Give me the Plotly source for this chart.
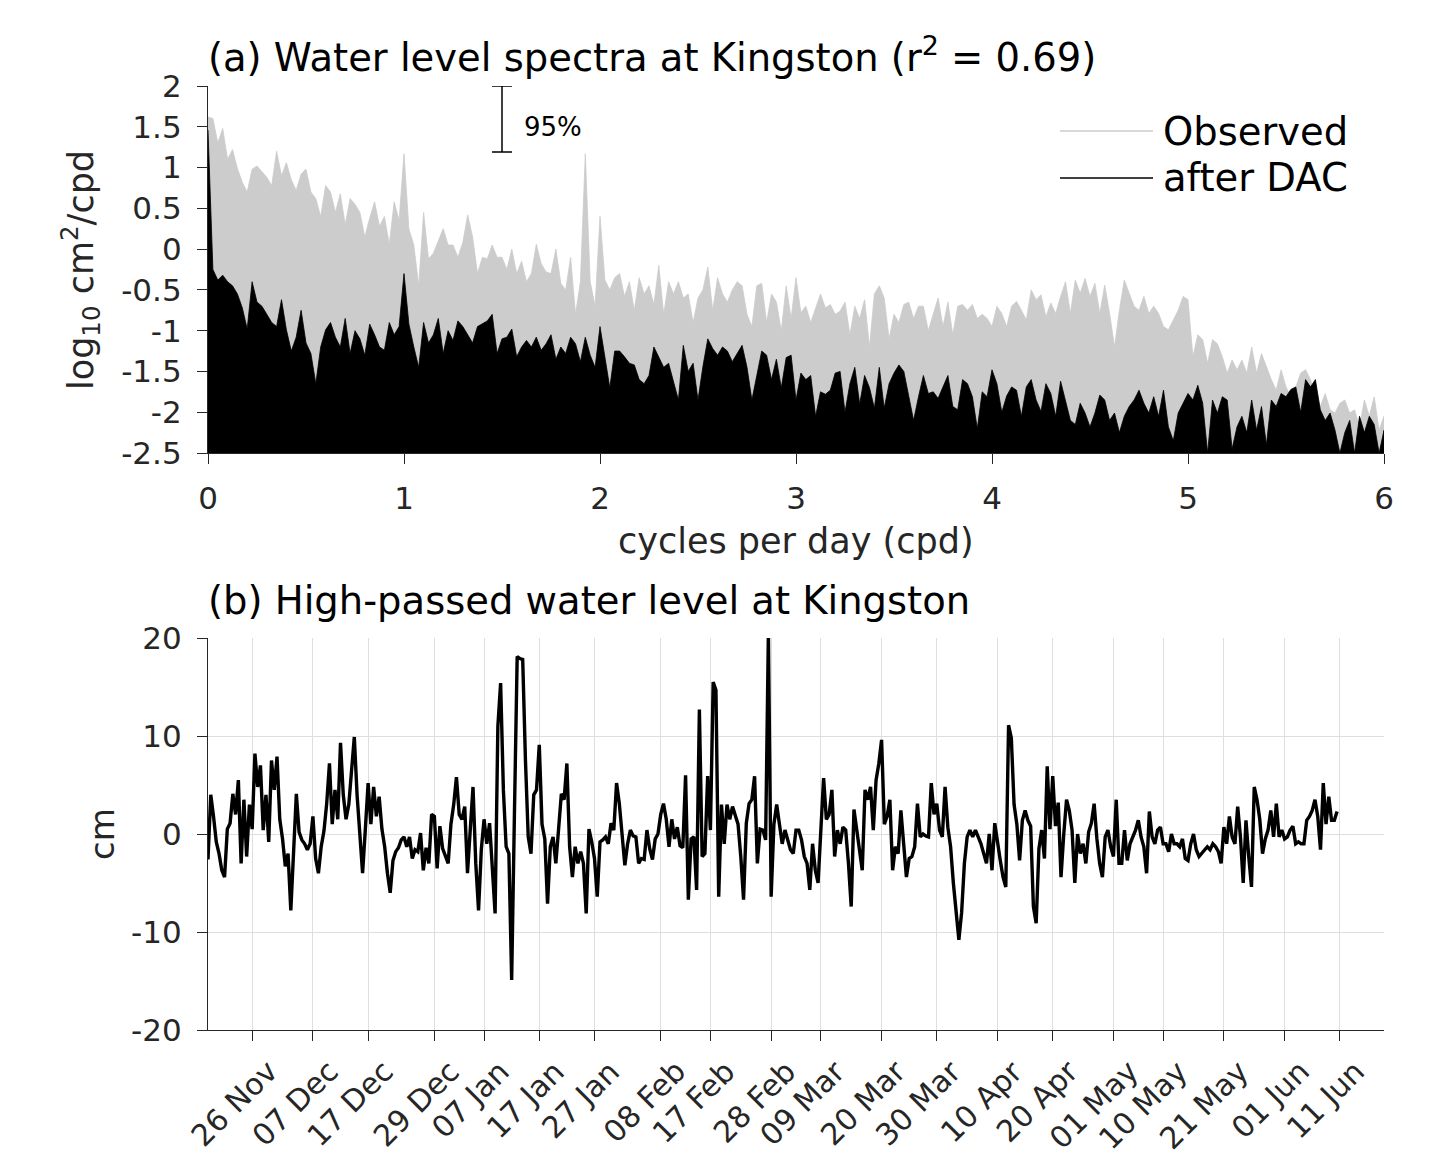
import numpy as np
import pandas as pd
import plotly.graph_objects as go

# ---------------- data: panel (a) spectra (log10 cm^2/cpd) ----------------
FREQ_STEP = 0.025  # cpd, spectral bin spacing used for the readout
obs_log10 = [
    1.62, 1.60, 1.30, 1.48, 1.10, 1.22, 0.99, 0.82, 0.70, 0.98,
    1.02, 0.95, 0.88, 0.78, 1.20, 0.90, 1.06, 0.85, 0.72, 0.92,
    0.98, 0.70, 0.62, 0.40, 0.78, 0.70, 0.45, 0.68, 0.30, 0.62,
    0.55, 0.45, 0.15, 0.38, 0.58, 0.28, 0.40, 0.06, 0.58, 0.35,
    1.17, 0.25, 0.05, -0.45, 0.45, -0.12, -0.05, 0.10, 0.25, 0.05,
    0.05, -0.10, 0.08, 0.42, 0.15, -0.30, -0.10, -0.12, 0.05, -0.10,
    -0.10, -0.25, 0.00, -0.30, -0.15, -0.40, -0.30, 0.06, -0.18, -0.28,
    -0.30, 0.00, -0.42, -0.50, -0.10, -0.80, -0.40, 1.17, -0.40, -0.70,
    0.40, -0.38, -0.50, -0.35, -0.30, -0.58, -0.40, -0.75, -0.35, -0.55,
    -0.45, -0.68, -0.20, -0.80, -0.40, -0.55, -0.40, -0.60, -0.55, -0.90,
    -0.60, -0.50, -0.22, -0.75, -0.35, -0.55, -0.65, -0.50, -0.40, -0.45,
    -0.80, -0.95, -0.45, -0.42, -0.90, -0.55, -0.65, -1.00, -0.45, -0.85,
    -0.35, -0.78, -0.70, -0.90, -0.72, -0.55, -0.72, -0.68, -0.80, -0.76,
    -0.65, -1.05, -0.70, -0.85, -0.62, -1.20, -0.55, -0.45, -0.60, -1.10,
    -0.80, -0.90, -0.68, -0.65, -0.85, -0.70, -0.70, -1.00, -0.80, -0.60,
    -0.95, -0.65, -1.05, -0.70, -0.68, -0.75, -0.68, -0.85, -0.80, -0.85,
    -0.95, -0.70, -0.79, -0.95, -0.70, -0.64, -0.75, -0.87, -0.50, -0.62,
    -0.56, -0.83, -0.66, -0.79, -0.58, -0.40, -0.79, -0.38, -0.54, -0.36,
    -0.58, -0.42, -0.79, -0.44, -0.79, -1.20, -0.75, -0.38, -0.54, -0.70,
    -0.75, -0.58, -0.79, -0.70, -0.79, -0.95, -0.99, -0.87, -0.75, -0.58,
    -0.62, -1.32, -1.05, -1.11, -1.40, -1.11, -1.16, -1.32, -1.52, -1.36,
    -1.48, -1.36, -1.52, -1.20, -1.52, -1.28, -1.44, -1.60, -1.73, -1.48,
    -1.69, -1.81, -1.69, -1.52, -1.48, -1.60, -1.81, -1.93, -1.77, -1.97,
    -2.01, -1.89, -1.85, -2.01, -1.97, -2.18, -1.85, -2.05, -1.81, -2.22,
    -2.05,
]
dac_log10 = [
    1.46, -0.25, -0.38, -0.32, -0.40, -0.45, -0.55, -0.72, -0.98, -0.40,
    -0.65, -0.70, -0.80, -0.90, -0.95, -0.62, -0.99, -1.25, -1.08, -0.75,
    -1.15, -1.28, -1.65, -1.20, -0.99, -0.90, -1.08, -1.20, -0.85, -1.28,
    -1.00, -1.10, -1.30, -0.92, -1.05, -1.20, -1.24, -0.90, -1.05, -0.95,
    -0.30, -0.92, -1.20, -1.45, -0.90, -1.15, -1.05, -0.85, -1.28, -1.00,
    -1.12, -0.88, -0.95, -1.05, -1.15, -0.95, -0.92, -0.88, -0.80, -1.28,
    -1.10, -1.08, -0.98, -1.32, -1.20, -1.12, -1.20, -1.08, -1.24, -1.16,
    -1.05, -1.35, -1.20, -1.28, -1.08, -1.16, -1.38, -1.08, -1.30, -1.45,
    -0.95, -1.32, -1.70, -1.25, -1.25, -1.32, -1.40, -1.42, -1.60, -1.65,
    -1.55, -1.20, -1.32, -1.45, -1.40, -1.62, -1.85, -1.18, -1.50, -1.40,
    -1.85, -1.44, -1.10, -1.22, -1.30, -1.20, -1.25, -1.38, -1.28, -1.18,
    -1.45, -1.85, -1.55, -1.25, -1.30, -1.60, -1.35, -1.70, -1.33, -1.30,
    -1.85, -1.52, -1.60, -1.55, -2.05, -1.75, -1.78, -1.73, -1.52, -1.50,
    -2.00, -1.65, -1.45, -1.90, -1.55, -1.70, -1.95, -1.45, -1.95, -1.65,
    -1.52, -1.42, -1.50, -1.78, -2.10, -1.81, -1.55, -1.77, -1.75, -1.83,
    -1.70, -1.55, -1.93, -1.97, -1.60, -1.65, -1.81, -2.20, -1.75, -1.81,
    -1.48, -1.65, -2.00, -1.80, -1.69, -1.73, -2.05, -1.69, -1.60, -1.85,
    -1.99, -1.65, -1.77, -2.05, -1.62, -1.85, -2.10, -2.15, -1.89, -2.01,
    -2.18, -2.01, -1.79, -1.85, -2.10, -2.01, -2.25, -2.05, -1.93, -1.85,
    -1.73, -1.89, -2.01, -1.81, -2.05, -1.73, -2.18, -2.35, -2.01, -1.89,
    -1.77, -1.85, -1.67, -1.89, -2.50, -1.85, -2.01, -1.81, -1.85, -2.45,
    -2.18, -2.05, -2.25, -1.85, -2.22, -1.93, -2.40, -1.85, -1.93, -1.77,
    -1.81, -1.72, -1.69, -2.00, -1.60, -1.69, -1.60, -1.97, -2.10, -2.01,
    -2.22, -2.50, -2.25, -2.10, -2.50, -2.05, -2.25, -2.05, -2.15, -2.50,
    -2.22,
]
freq = np.round(np.arange(len(obs_log10)) * FREQ_STEP, 4)

# 95% confidence bar
ci_freq = 1.5
ci_top = 2.0
ci_bottom = 1.19

# ---------------- data: panel (b) high-passed water level (cm) ----------------
hp_start = "2014-11-18 00:00"
hp_step = "12h"
hp_cm = [
    -2.6, 4.0, 1.8, -0.8, -2.0, -3.7, -4.4, 0.5, 1.1, 4.1,
    2.0, 5.5, -3.0, 3.5, -2.3, 3.0, 0.5, 8.2, 4.8, 7.0,
    0.4, 4.0, -0.8, 7.5, 4.5, 7.9, 1.5, -0.5, -3.3, -2.0,
    -7.8, -1.0, 4.1, 0.2, -0.6, -1.0, -1.6, -1.0, 1.8, -2.5,
    -4.0, -1.3, 0.3, 3.1, 7.2, 1.0, 4.5, 1.5, 9.3, 4.0,
    1.5, 3.0, 6.2, 9.9, 4.0, -0.3, -4.0, 0.5, 5.2, 1.0,
    4.8, 1.8, 3.8, 0.5, -1.3, -4.0, -6.0, -2.7, -1.8, -1.4,
    -0.6, -0.3, -1.3, -0.3, -2.5, -1.6, -1.8, 0.1, -3.7, -1.4,
    -3.0, 2.0, 1.8, -3.5, 0.8, -1.5, -2.2, -3.0, 1.0, 3.0,
    5.8, 2.0, 1.5, 2.8, -4.0, 0.3, 4.8, -3.0, -7.8, -1.6,
    1.5, -1.0, 1.1, -3.5, -8.1, 11.0, 15.4, 4.5, -1.3, -2.0,
    -14.9, 2.0, 18.1, 17.9, 17.8, 7.5, -0.3, -2.0, 4.0, 4.5,
    9.1, 1.0, -0.5, -7.1, -1.3, -0.3, -3.0, 0.5, 4.1, 3.5,
    7.2, -1.3, -4.4, -1.3, -3.0, -1.8, -3.0, -8.1, 0.5, -0.8,
    -2.5, -6.4,
    -0.8, -0.6, -0.3, -1.0, 1.1, 0.4, 5.2, 3.1,
    0.1, -3.2, -1.0, 0.4, -0.2, -0.3, -3.0, -2.5, -2.6, 0.4,
    -1.5, -2.6, -0.5, 0.0, 2.0, 3.1, 1.5, -1.3, 1.5, -0.5,
    0.7, -1.2, -1.4, 6.0, -6.7, -0.5, -0.3, -5.7, 12.7, -2.3,
    -2.0, 5.9, 0.4, 15.5, 14.7, -6.4, 3.0, -1.0, 3.0, 1.5,
    2.8, 1.8, 1.0, -2.3, -6.7, 1.1, 3.1, 3.5, 5.9, -3.0,
    0.5, 0.4, -0.6, 20.5, -6.4, 1.0, 3.0, 1.0, -1.0, 0.4,
    -0.6, -1.6, -2.0, 0.4, 0.4, -0.6, -2.3, -3.0, -5.7, -1.0,
    -3.7, -5.0, 0.4, 5.7, 1.5, 2.0, 4.5, -2.3, 0.4, -1.0,
    0.7, 0.4, -3.0, -7.4, 2.5, 0.4, -1.6, -3.7, 4.5, 3.5,
    4.8, 0.4, 5.5, 7.2, 9.6, 1.0, 1.8, 3.5, -3.7, -1.3,
    -2.0, 2.4, -1.0, -4.4, -2.5, -2.3, -1.3, 3.1, -0.3, 0.0,
    -0.2, -0.3, 5.2, 2.0, 3.1, 0.4, -0.3, 4.8, 0.7, -1.3,
    -5.0, -8.1, -10.8, -8.0, -3.0, -0.3, 0.4, -0.3, 0.4, -0.3,
    -1.0, -2.0, -3.0,
    0.0, -3.7, 1.1, -1.0, -2.7, -4.4, -5.4,
    11.1, 9.8, 3.0, 1.0, -2.7, 1.4, 2.4, 1.4, 0.8, -7.4,
    -9.1, -1.5, 0.4, -2.5, 6.9, 0.5, 5.9, 0.8, 3.2, -4.4,
    0.0, 3.5, 2.4, 0.4, -5.0, 0.0, -2.0, -1.0, -3.0, 0.2,
    1.1, 3.1, -0.5, -3.0, -4.4, -0.3, 0.4, -1.3, -2.3, 3.5,
    -3.0, -3.0, 0.4, -2.7, -1.0, -0.3, 0.4, 1.4, -0.3, -1.3,
    -4.0, 2.3, -0.3, -1.0, 0.4, 0.7, -1.0, -1.0, -1.8, 0.0,
    -1.0, -1.0, -1.3, -0.5, -2.5, -2.7, -1.0, 0.0, -1.6, -2.3,
    -2.0, -1.6, -1.3, -1.6, -1.0, -1.3, -1.8, -3.0, 0.7, -1.0,
    1.8, -0.3, -1.0, 2.8, -0.3, -5.0, 1.4, -2.3, -5.4, 4.8,
    3.5, 1.5, -2.0, -0.5, 0.4, 2.4, -0.3, 3.1, -0.3, 0.4,
    -0.5, -0.3, 0.4, 0.8, -1.0, -0.8, -1.0, -1.0, 1.4, 1.8,
    2.4, 3.5, 1.8, -1.6, 5.2, 1.0, 3.8, 1.4, 1.4, 2.3,
]
hp_time = pd.date_range(hp_start, periods=len(hp_cm), freq=hp_step)

date_ticks = ["2014-11-26", "2014-12-07", "2014-12-17", "2014-12-29", "2015-01-07",
              "2015-01-17", "2015-01-27", "2015-02-08", "2015-02-17", "2015-02-28",
              "2015-03-09", "2015-03-20", "2015-03-30", "2015-04-10", "2015-04-20",
              "2015-05-01", "2015-05-10", "2015-05-21", "2015-06-01", "2015-06-11"]
date_labels = ["26 Nov", "07 Dec", "17 Dec", "29 Dec", "07 Jan", "17 Jan", "27 Jan",
               "08 Feb", "17 Feb", "28 Feb", "09 Mar", "20 Mar", "30 Mar", "10 Apr",
               "20 Apr", "01 May", "10 May", "21 May", "01 Jun", "11 Jun"]
date_range = ["2014-11-18", "2015-06-19"]

spec_ticks = [-2.5, -2, -1.5, -1, -0.5, 0, 0.5, 1, 1.5, 2]
spec_ticktext = ["-2.5", "-2", "-1.5", "-1", "-0.5", "0", "0.5", "1", "1.5", "2"]
hp_ticks = [-20, -10, 0, 10, 20]
hp_ticktext = ["-20", "-10", "0", "10", "20"]
Y_MIN = -2.5

# ---------------- figure geometry (screen px, page has 8px body margin) ----------------
OFF = 8
W, H = 1440 - 2 * OFF, 1167 - 2 * OFF
X0, X1 = 208, 1384          # plot area left/right on screen
FONT = "DejaVu Sans"
AX = "#262626"
GRAY = "#cccccc"


def px(xs):
    return (xs - X0) / (X1 - X0)


def py(ys):
    return 1 - (ys - OFF) / H


fig = go.Figure()

fig.add_trace(go.Scatter(
    x=list(freq) + [freq[-1], freq[0]], y=list(obs_log10) + [Y_MIN, Y_MIN],
    fill="toself", fillcolor=GRAY, mode="lines", line=dict(color=GRAY, width=0.8),
    showlegend=False, xaxis="x", yaxis="y", hoverinfo="skip"))
fig.add_trace(go.Scatter(
    x=list(freq) + [freq[-1], freq[0]], y=list(dac_log10) + [Y_MIN, Y_MIN],
    fill="toself", fillcolor="black", mode="lines", line=dict(color="black", width=0.8),
    showlegend=False, xaxis="x", yaxis="y", hoverinfo="skip"))
fig.add_trace(go.Scatter(
    x=[ci_freq], y=[(ci_top + ci_bottom) / 2], mode="markers",
    marker=dict(size=1, color="rgba(0,0,0,0)"),
    error_y=dict(type="data", symmetric=True, array=[(ci_top - ci_bottom) / 2],
                 width=10, thickness=1.5, color="black"),
    cliponaxis=False, showlegend=False, xaxis="x", yaxis="y"))

fig.add_trace(go.Scatter(
    x=hp_time, y=hp_cm, mode="lines", line=dict(color="black", width=3.4),
    showlegend=False, xaxis="x2", yaxis="y2"))

top_dom = [py(453), py(86)]
bot_dom = [py(1030), py(638)]

common = dict(showline=True, linecolor=AX, linewidth=1.3, ticks="outside",
              ticklen=10, tickcolor=AX, tickwidth=1.3, zeroline=False,
              tickfont=dict(family=FONT, size=31, color=AX), mirror=False,
              automargin=False)

fig.update_layout(
    width=W, height=H, paper_bgcolor="white", plot_bgcolor="white",
    margin=dict(l=X0 - OFF, r=W - (X1 - OFF), t=0, b=0),
    showlegend=False,
    font=dict(family=FONT, color="black"),
    xaxis=dict(domain=[0, 1], range=[0, 6], tickvals=[0, 1, 2, 3, 4, 5, 6],
               showgrid=False, anchor="y", ticklabelstandoff=8, **common),
    yaxis=dict(domain=top_dom, range=[-2.5, 2], tickvals=spec_ticks,
               ticktext=spec_ticktext, showgrid=False, anchor="x",
               ticklabelstandoff=9, **common),
    xaxis2=dict(domain=[0, 1], type="date", range=date_range, tickvals=date_ticks,
                showticklabels=False, showgrid=True,
                gridcolor="#dedede", gridwidth=1, anchor="y2", **common),
    yaxis2=dict(domain=bot_dom, range=[-20, 20], tickvals=hp_ticks,
                ticktext=hp_ticktext, showgrid=True, gridcolor="#dedede",
                gridwidth=1, anchor="x2", ticklabelstandoff=9, **common),
)

# rotated date labels placed like the reference (end of text right of the tick)
for d, lab in zip(date_ticks, date_labels):
    fig.add_annotation(text=lab, x=d, xref="x2", y=py(1052), yref="paper",
                       xanchor="right", yanchor="top", textangle=-45, xshift=33,
                       showarrow=False, borderpad=0,
                       font=dict(family=FONT, size=30, color=AX))

ann = [
    dict(text="(a) Water level spectra at Kingston (r<sup>2</sup> = 0.69)",
         x=px(206), y=py(55), xanchor="left", yanchor="middle", size=38.5),
    dict(text="(b) High-passed water level at Kingston",
         x=px(206), y=py(600), xanchor="left", yanchor="middle", size=38.5),
    dict(text="cycles per day (cpd)", x=px(796), y=py(541), xanchor="center",
         yanchor="middle", size=35, color=AX),
    dict(text="Observed", x=px(1161), y=py(131), xanchor="left", yanchor="middle", size=38.5),
    dict(text="after DAC", x=px(1161), y=py(178), xanchor="left", yanchor="middle", size=38.5),
]
for a in ann:
    fig.add_annotation(text=a["text"], x=a["x"], y=a["y"], xref="paper", yref="paper",
                       xanchor=a["xanchor"], yanchor=a["yanchor"], showarrow=False,
                       font=dict(family=FONT, size=a["size"], color=a.get("color", "black")))

fig.add_annotation(text="log<sub>10</sub> cm<sup>2</sup>/cpd", x=px(80), y=py(270),
                   xref="paper", yref="paper", textangle=-90, showarrow=False,
                   xanchor="center", yanchor="middle",
                   font=dict(family=FONT, size=35, color=AX))
fig.add_annotation(text="cm", x=px(102), y=py(834), xref="paper", yref="paper",
                   textangle=-90, showarrow=False, xanchor="center", yanchor="middle",
                   font=dict(family=FONT, size=34, color=AX))
fig.add_annotation(text="95%", x=1.6, y=1.5, xref="x", yref="y", xanchor="left",
                   yanchor="middle", showarrow=False,
                   font=dict(family=FONT, size=26, color="black"))

# manual legend lines
fig.add_shape(type="line", xref="paper", yref="paper", x0=px(1060), x1=px(1153),
              y0=py(131), y1=py(131), line=dict(color=GRAY, width=1.6))
fig.add_shape(type="line", xref="paper", yref="paper", x0=px(1060), x1=px(1153),
              y0=py(178), y1=py(178), line=dict(color="black", width=1.6))

fig.write_html("out.html")
